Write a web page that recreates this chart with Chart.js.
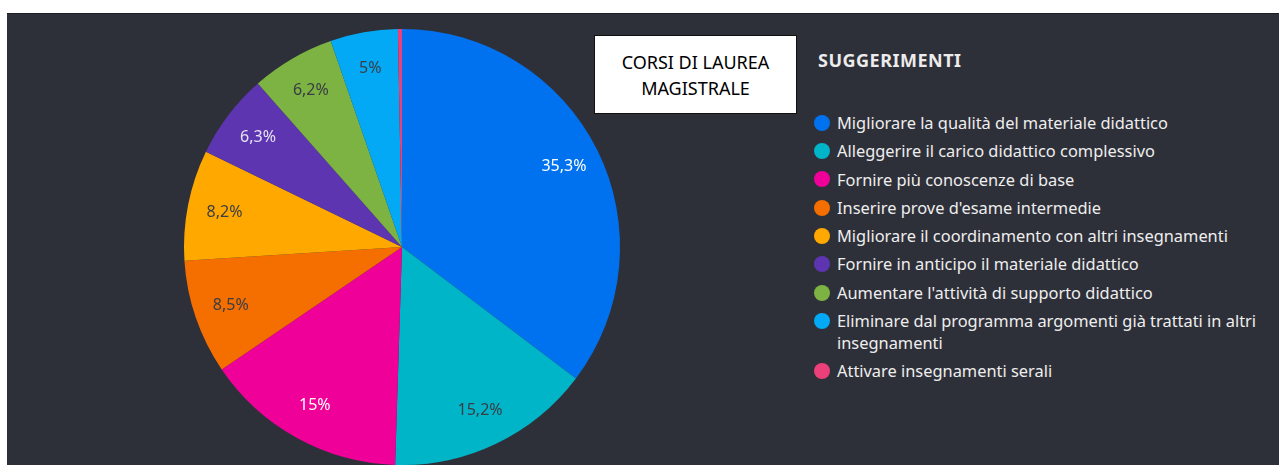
<!DOCTYPE html>
<html>
<head>
<meta charset="utf-8">
<script src="https://cdn.jsdelivr.net/npm/chart.js@4.4.1/dist/chart.umd.min.js"></script>
<style>
  html, body { margin: 0; padding: 0; background: #fff; width: 1279px; height: 465px; overflow: hidden; font-family: 'Noto Sans', sans-serif; }
  #panel { position: absolute; left: 7px; top: 13px; width: 1272px; height: 452px; background: #2e3039; border-top: 1px solid #1d1f24; box-sizing: border-box; }
  #pie { position: absolute; left: 7px; top: 13px; }
  #titleBox { position: absolute; left: 594px; top: 35px; width: 203px; height: 79px; box-sizing: border-box; background: #fff; border: 1px solid #111;
    color: #000; font-size: 18px; line-height: 26px; text-align: center; display: flex; align-items: center; justify-content: center; }
  #legendTitle { position: absolute; left: 818px; top: 49px; color: #ececec; font-weight: 700; font-size: 18px; line-height: 22px; letter-spacing: 0.5px; }
  #legend { position: absolute; left: 814px; top: 112px; margin: 0; padding: 0; list-style: none; }
  #legend li { display: flex; align-items: flex-start; color: #eeeeee; font-size: 16.4px; line-height: 21.7px; margin-bottom: 6.6px; white-space: nowrap; }
  #legend .dot { width: 16px; height: 16px; border-radius: 50%; margin-top: 2.85px; margin-right: 7px; flex: none; }
</style>
</head>
<body>
<div id="panel"></div>
<canvas id="pie" width="800" height="452"></canvas>
<div id="titleBox">CORSI DI LAUREA<br>MAGISTRALE</div>
<div id="legendTitle">SUGGERIMENTI</div>
<ul id="legend"></ul>

<script>
// dati del grafico
const categories = [
  'Migliorare la qualità del materiale didattico',
  'Alleggerire il carico didattico complessivo',
  'Fornire più conoscenze di base',
  "Inserire prove d'esame intermedie",
  'Migliorare il coordinamento con altri insegnamenti',
  'Fornire in anticipo il materiale didattico',
  "Aumentare l'attività di supporto didattico",
  ['Eliminare dal programma argomenti già trattati in altri', 'insegnamenti'],
  'Attivare insegnamenti serali'
];
const percentages = [35.3, 15.2, 15, 8.5, 8.2, 6.3, 6.2, 5, 0.3];

const sliceColors = ['#0072ef', '#00b5c8', '#ef0099', '#f46e00', '#ffa800', '#5e35b1', '#7cb342', '#03a9f4', '#ec407a'];
const labelColors = ['#ffffff', '#3a3d45', '#ffffff', '#3a3d45', '#3a3d45', '#e6e3f3', '#3a3d45', '#3a3d45', '#3a3d45'];

// etichette percentuali dentro le fette
const sliceLabels = {
  id: 'sliceLabels',
  afterDatasetsDraw(chart) {
    const ctx = chart.ctx;
    const meta = chart.getDatasetMeta(0);
    ctx.save();
    ctx.font = '16px "Noto Sans"';
    ctx.textAlign = 'center';
    ctx.textBaseline = 'middle';
    meta.data.forEach((arc, i) => {
      const v = percentages[i];
      if (v < 1) return;
      const { x, y, startAngle, endAngle, outerRadius } = arc.getProps(['x', 'y', 'startAngle', 'endAngle', 'outerRadius'], true);
      const mid = (startAngle + endAngle) / 2;
      const r = outerRadius * 0.83;
      ctx.fillStyle = labelColors[i];
      ctx.fillText(String(v).replace('.', ',') + '%', x + Math.cos(mid) * r, y + Math.sin(mid) * r);
    });
    ctx.restore();
  }
};

// legenda html a destra
const htmlLegend = {
  id: 'htmlLegend',
  afterUpdate(chart) {
    const ul = document.getElementById('legend');
    ul.innerHTML = '';
    const items = chart.options.plugins.legend.labels.generateLabels(chart);
    items.forEach(item => {
      const li = document.createElement('li');
      const dot = document.createElement('span');
      dot.className = 'dot';
      dot.style.background = item.fillStyle;
      const txt = document.createElement('span');
      [].concat(item.text).forEach((line, k) => {
        if (k > 0) txt.appendChild(document.createElement('br'));
        txt.appendChild(document.createTextNode(line));
      });
      li.append(dot, txt);
      ul.appendChild(li);
    });
  }
};

new Chart(document.getElementById('pie'), {
  type: 'pie',
  data: {
    labels: categories,
    datasets: [{
      data: percentages,
      backgroundColor: sliceColors,
      borderWidth: 0
    }]
  },
  options: {
    responsive: false,
    animation: false,
    layout: { padding: { left: 177, right: 187, top: 16, bottom: 0 } },
    plugins: {
      legend: { display: false },
      tooltip: { enabled: false }
    }
  },
  plugins: [sliceLabels, htmlLegend]
});
</script>
</body>
</html>
